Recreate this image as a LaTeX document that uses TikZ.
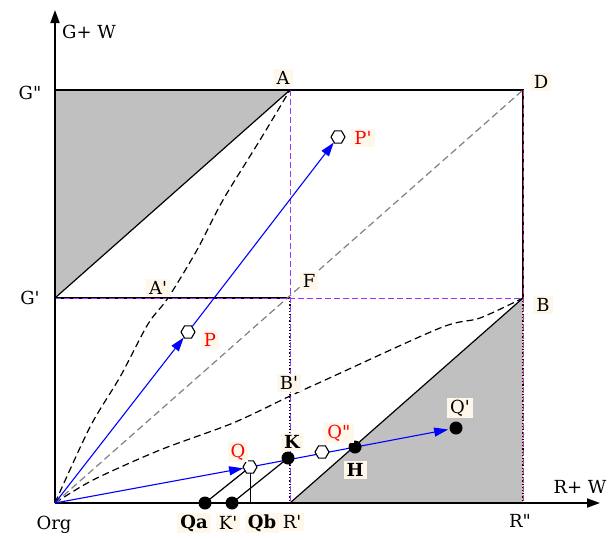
\documentclass[tikz,border=0pt]{standalone}
\usepackage{fontspec}
\setmainfont{DejaVu Serif}
\usetikzlibrary{arrows.meta,shapes.geometric}
\definecolor{cream}{HTML}{FFF8EA}
\definecolor{lilac}{HTML}{9933FF}
\definecolor{rose}{HTML}{CC3399}
\definecolor{greyfill}{HTML}{C0C0C0}
\newcommand{\pr}{\textquotesingle}
\newcommand{\dpr}{\textquotedbl}

\begin{document}
\begin{tikzpicture}[x=1pt,y=-1pt,line width=1.2pt,>=Stealth,
  axis/.style={->,line width=1.8pt,>={Triangle[length=13pt,width=9pt]}},
  move/.style={->,blue,line width=1.1pt,>={Triangle[length=14pt,width=9pt]}},
  txt/.style={inner sep=1pt,font=\fontsize{18}{20}\selectfont},
  lab/.style={txt,fill=cream,inner xsep=3pt,inner ysep=2pt},
  strong/.style={font=\fontsize{18}{20}\selectfont\bfseries},
  open/.style={regular polygon,regular polygon sides=6,draw,fill=white,
    minimum size=14pt,inner sep=0pt,line width=1.1pt},
  dot/.style={circle,fill=black,minimum size=13pt,inner sep=0pt},
  blackdash/.style={dash pattern=on 7pt off 4pt},
  linedash/.style={dash pattern=on 6pt off 3pt}]
\useasboundingbox (0,0) rectangle (610,539);
% ---------- frame points ----------
\coordinate (Org) at (55,503);
\coordinate (Gpp) at (55,90);
\coordinate (Gp) at (55,298);
\coordinate (A) at (290,90);
\coordinate (D) at (523,90);
\coordinate (F) at (290,298);
\coordinate (B) at (523,298);
\coordinate (Rp) at (290,503);
\coordinate (Rpp) at (523,503);
\coordinate (ytip) at (55,10);
\coordinate (xtip) at (600,503);
% ---------- moving points ----------
\coordinate (P) at (188,332);
\coordinate (Pp) at (338,137);
\coordinate (Q) at (250,467);
\coordinate (Qpp) at (322,452);
\coordinate (K) at (288,458);
\coordinate (H) at (355,447);
\coordinate (Qq) at (456,428);
\coordinate (Qa) at (205,503);
\coordinate (Kp) at (232,503);
\coordinate (Qb) at (250,503);
% ---------- shaded regions ----------
\fill[greyfill] (Gpp) -- (A) -- (Gp) -- cycle;
\fill[greyfill] (Rp) -- (B) -- (Rpp) -- cycle;
\draw (A) -- (Gp);
\draw (Rp) -- (B);
\draw (Gpp) -- (D) -- (B);
\draw (Gp) -- (F);
\draw[dotted] (F) -- (Rp);
\draw[dotted] (B) -- (Rpp);
\draw[lilac,linedash,line width=1pt] (A) -- (Rp);
\draw[lilac,linedash,line width=1pt] (Gp) -- (B);
\draw[rose,linedash,line width=1pt] (D) -- (Rpp);
% ---------- curves ----------
\draw[blackdash] plot[smooth] coordinates {(55,503) (90,427) (120,377) (148,324)
  (168,298) (197,250) (223,200) (260,140) (290,90)};
\draw[blackdash] plot[smooth] coordinates {(55,503) (93,480) (160,450) (233,423)
  (290,396) (323,381) (440,328) (480,318) (523,298)};
\draw[gray,blackdash] (Org) -- (D);
% ---------- axes ----------
\draw[axis] (Org) -- (ytip);
\draw[axis] (Org) -- (xtip);
% ---------- paths ----------
\draw (Qa) -- (Q);
\draw (Kp) -- (K);
\draw[line width=1pt] (Q) -- (Qb);
\draw[move,shorten >=7pt] (Org) -- (P);
\draw[move,shorten <=7pt,shorten >=7pt] (P) -- (Pp);
\draw[move,shorten >=7pt] (Org) -- (Q);
\draw[move,shorten <=7pt,shorten >=8pt] (Q) -- (Qq);
\node[open] (mP) at (P) {};
\node[open] (mPp) at (Pp) {};
\node[open] (mQ) at (Q) {};
\node[open] (mQpp) at (Qpp) {};
\node[dot] (mK) at (K) {};
\node[dot] (mH) at (H) {};
\node[dot] (mQq) at (Qq) {};
\node[dot] (mQa) at (Qa) {};
\node[dot] (mKp) at (Kp) {};
% ---------- labels ----------
\node[txt] (lGW) at (89,32) {G+ W};
\node[txt] (lRW) at (580,487) {R+ W};
\node[txt] (lGpp) at (30,93) {G\dpr};
\node[txt] (lGp) at (30,298) {G\pr};
\node[txt] (lOrg) at (54,525) {Org};
\node[txt] (lRpp) at (520,521) {R\dpr};
\node[lab] (lA) at (283,78) {A};
\node[lab] (lD) at (541,82) {D};
\node[lab] (lAp) at (158,288) {A\pr};
\node[lab] (lF) at (309,281) {F};
\node[lab] (lB) at (543,305) {B};
\node[lab] (lBp) at (289,383) {B\pr};
\node[lab,text=red] (lP) at (210,340) {P};
\node[lab,text=red] (lPp) at (363,138) {P\pr};
\node[lab,text=red] (lQ) at (238,452) {Q};
\node[lab,strong] (lK) at (292,442) {K};
\node[lab,text=red] (lQpp) at (339,433) {Q\dpr};
\node[lab,strong] (lH) at (355,470) {H};
\node[lab] (lQq) at (460,408) {Q\pr};
\node[lab,strong] (lQa) at (194,523) {Qa};
\node[lab] (lKp) at (228,523) {K\pr};
\node[lab,strong] (lQb) at (262,523) {Qb};
\node[lab] (lRp) at (292,522) {R\pr};
\end{tikzpicture}
\end{document}
